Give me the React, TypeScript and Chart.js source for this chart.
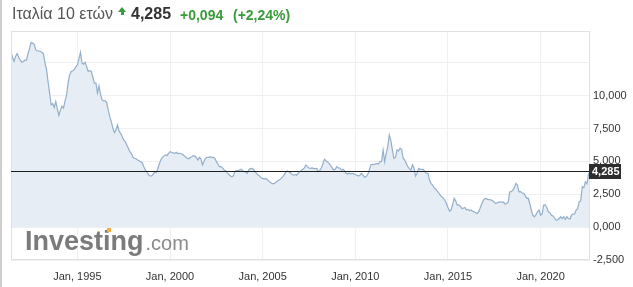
import React, { useEffect, useRef } from 'react';
import { Chart, registerables } from 'chart.js';

Chart.register(...registerables);

// ---- data -------------------------------------------------------------
const startYear = 1991;
const startMonth = 6; // first value: June 1991, one value per month
const yields: number[] = [
  // 1991 (Jun-Dec)
  13.4, 12.9, 12.6, 13.0, 13.2, 12.9, 12.7,
  // 1992
  12.55, 12.6, 12.7, 12.7, 13.2, 13.6, 14.05, 14.0, 13.9, 13.5, 13.4, 13.4,
  // 1993
  13.36, 13.3, 13.2, 12.5, 12.0, 11.07, 10.2, 9.3, 9.4, 9.1, 9.55, 9.0,
  // 1994
  8.5, 8.9, 9.2, 9.05, 9.6, 10.06, 11.0, 11.6, 11.84, 11.9, 12.0, 12.2,
  // 1995
  12.35, 12.8, 13.3, 12.47, 12.4, 12.55, 12.2, 11.84, 11.9, 11.84, 11.4, 10.95,
  // 1996
  10.95, 10.2, 10.75, 10.1, 9.68, 9.6, 9.6, 9.47, 8.9, 8.4, 8.0, 7.52,
  // 1997
  7.19, 7.4, 7.77, 7.3, 7.14, 6.9, 6.63, 6.5, 6.25, 6.0, 5.74, 5.6,
  // 1998
  5.31, 5.24, 5.2, 5.1, 5.05, 4.98, 4.9, 4.6, 4.35, 4.2, 4.0, 3.9,
  // 1999
  3.89, 4.0, 4.22, 4.14, 4.4, 4.8, 5.1, 5.3, 5.4, 5.49, 5.45, 5.6,
  // 2000
  5.74, 5.7, 5.65, 5.61, 5.7, 5.6, 5.61, 5.6, 5.55, 5.45, 5.35, 5.24,
  // 2001
  5.2, 5.3, 5.35, 5.44, 5.4, 5.3, 5.1, 5.3, 5.2, 4.73, 5.0, 5.24,
  // 2002
  5.3, 5.3, 5.36, 5.3, 5.3, 5.24, 5.0, 4.8, 4.6, 4.6, 4.5, 4.35,
  // 2003
  4.3, 4.14, 4.0, 3.9, 3.83, 3.9, 4.22, 4.3, 4.3, 4.35, 4.4, 4.3,
  // 2004
  4.22, 4.2, 4.1, 4.35, 4.45, 4.47, 4.4, 4.2, 4.1, 3.96, 3.9, 3.75,
  // 2005
  3.71, 3.65, 3.7, 3.6, 3.5, 3.4, 3.33, 3.3, 3.35, 3.45, 3.55, 3.6,
  // 2006
  3.71, 3.85, 4.0, 4.2, 4.27, 4.2, 4.15, 4.0, 3.96, 4.0, 3.95, 4.1,
  // 2007
  4.22, 4.3, 4.4, 4.5, 4.73, 4.6, 4.5, 4.47, 4.5, 4.47, 4.45, 4.47,
  // 2008
  4.22, 4.3, 4.5, 4.8, 5.16, 5.05, 4.95, 4.85, 4.7, 4.5, 4.35, 4.4,
  // 2009
  4.6, 4.5, 4.5, 4.35, 4.4, 4.3, 4.1, 4.04, 4.1, 4.05, 4.09, 4.05,
  // 2010
  4.0, 3.95, 3.89, 3.95, 4.09, 3.95, 3.79, 3.85, 4.0, 4.3, 4.73, 4.78,
  // 2011
  4.75, 4.8, 4.85, 4.8, 4.98, 5.0, 5.87, 4.98, 5.6, 6.12, 7.01, 6.6,
  // 2012
  5.87, 5.24, 5.3, 5.87, 5.8, 6.0, 5.9, 5.24, 5.1, 4.85, 4.6, 4.45,
  // 2013
  4.35, 4.73, 4.5, 3.89, 4.1, 4.47, 4.4, 4.4, 4.4, 4.22, 4.1, 4.1,
  // 2014
  3.6, 3.33, 3.2, 3.0, 2.9, 2.75, 2.6, 2.44, 2.3, 2.2, 2.06, 1.8,
  // 2015
  1.5, 1.22, 1.3, 1.7, 2.19, 2.0, 1.68, 1.7, 1.6, 1.42, 1.45, 1.5,
  // 2016
  1.3, 1.35, 1.25, 1.3, 1.2, 1.17, 1.1, 1.04, 1.2, 1.5, 1.8, 2.06,
  // 2017
  2.19, 2.15, 2.1, 2.1, 2.06, 2.0, 1.9, 1.8, 1.85, 1.9, 1.93, 1.9,
  // 2018
  1.9, 1.75, 1.8, 1.9, 2.69, 2.7, 2.82, 3.0, 3.33, 3.2, 2.69, 2.7,
  // 2019
  2.6, 2.57, 2.4, 2.19, 2.2, 1.8, 1.3, 0.9, 0.79, 0.95, 1.17, 1.3,
  // 2020
  0.91, 1.0, 1.68, 1.7, 1.5, 1.17, 1.1, 0.91, 0.85, 0.7, 0.53, 0.55,
  // 2021
  0.66, 0.79, 0.65, 0.8, 0.59, 0.8, 0.65, 0.6, 0.91, 1.0, 1.0, 1.3,
  // 2022 (Jan-Sep)
  1.4, 1.93, 2.0, 3.07, 3.0, 3.45, 3.3, 4.0, 4.285,
];

const xTickYears = [1995, 2000, 2005, 2010, 2015, 2020];
const yTickValues = [-2.5, 0, 2.5, 5, 7.5, 10, 12.5];
const yHiddenLabels = [12.5];
const yMin = -2.5;
const yMax = 14.92;

const lastValue = 4.285;
const titleText = 'Ιταλία 10 ετών';
const priceText = '4,285';
const changeText = '+0,094';
const pctText = '(+2,24%)';
const lastLabel = '4,285';

const FONT = '"Liberation Sans", Arial, Helvetica, sans-serif';
const GREEN = '#3a9b3a';

const fmt = (v: number) => v.toFixed(3).replace('.', ',');

const overlayPlugin = {
  id: 'overlay',
  afterDraw(chart: any) {
    const { ctx, chartArea, scales } = chart;
    const { left, right, top, bottom } = chartArea;
    ctx.save();
    // frame
    ctx.strokeStyle = '#e1e1e1';
    ctx.lineWidth = 1;
    ctx.strokeRect(left + 0.5, top + 0.5, right - left - 1, bottom - top - 1);
    // last value line
    const yy = Math.round(scales.y.getPixelForValue(lastValue)) + 0.5;
    ctx.strokeStyle = '#1e1e1e';
    ctx.beginPath();
    ctx.moveTo(left, yy);
    ctx.lineTo(right, yy);
    ctx.stroke();
    // label box
    ctx.fillStyle = '#2d2d2d';
    ctx.fillRect(right - 1, yy - 7.5, 32, 15);
    ctx.fillStyle = '#ffffff';
    ctx.font = `bold 11px ${FONT}`;
    ctx.textAlign = 'left';
    ctx.textBaseline = 'middle';
    ctx.fillText(lastLabel, right + 2, yy + 0.5);
    ctx.restore();
  },
};

export default function App() {
  const canvasRef = useRef<HTMLCanvasElement | null>(null);

  useEffect(() => {
    document.body.style.margin = '0';
    const canvas = canvasRef.current;
    if (!canvas) return;
    const points = yields.map((v, i) => ({
      x: startYear + (startMonth - 1 + i) / 12,
      y: v,
    }));
    const xMin = points[0].x;
    const xMax = points[points.length - 1].x;

    const chart = new Chart(canvas, {
      type: 'line',
      data: {
        datasets: [
          {
            data: points,
            borderColor: '#94afcb',
            borderWidth: 1.2,
            backgroundColor: '#e6edf4',
            fill: 'origin',
            pointRadius: 0,
            tension: 0,
          },
        ],
      },
      options: {
        animation: false,
        responsive: false,
        events: [],
        layout: { padding: { left: 11, top: 31, right: 0, bottom: 0 } },
        plugins: {
          legend: { display: false },
          tooltip: { enabled: false },
        },
        scales: {
          x: {
            type: 'linear',
            position: 'bottom',
            min: xMin,
            max: xMax,
            afterFit: (s: any) => {
              s.height = 27;
            },
            afterBuildTicks: (s: any) => {
              s.ticks = xTickYears.map((v) => ({ value: v }));
            },
            ticks: {
              autoSkip: false,
              maxRotation: 0,
              padding: 10,
              color: '#333333',
              font: { family: FONT, size: 11 },
              callback: (v: any) => 'Jan, ' + v,
            },
            grid: { color: '#eef1f4', drawTicks: false },
            border: { display: false },
          },
          y: {
            type: 'linear',
            position: 'right',
            min: yMin,
            max: yMax,
            afterFit: (s: any) => {
              s.width = 43;
            },
            afterBuildTicks: (s: any) => {
              s.ticks = yTickValues.map((v) => ({ value: v }));
            },
            ticks: {
              padding: 3,
              color: '#333333',
              font: { family: FONT, size: 11 },
              callback: (v: any) => (yHiddenLabels.includes(Number(v)) ? '' : fmt(Number(v))),
            },
            grid: { color: '#eef1f4', drawTicks: false },
            border: { display: false },
          },
        },
      },
      plugins: [overlayPlugin],
    } as any);

    return () => chart.destroy();
  }, []);

  const abs = (left: number, extra: any = {}) => ({
    position: 'absolute' as const,
    left,
    top: 4,
    lineHeight: '20px',
    whiteSpace: 'nowrap' as const,
    ...extra,
  });

  return (
    <div
      style={{
        position: 'relative',
        width: 633,
        height: 287,
        overflow: 'hidden',
        background: '#ffffff',
        fontFamily: FONT,
      }}
    >
      <canvas ref={canvasRef} width={633} height={287} style={{ position: 'absolute', left: 0, top: 0 }} />
      <div style={{ position: 'absolute', left: 0, top: 0, width: 2, height: 287, background: '#cfcfcf' }} />
      <span style={abs(12, { fontSize: 16, color: '#555555' })}>{titleText}</span>
      <div
        style={{
          position: 'absolute',
          left: 118,
          top: 7,
          width: 0,
          height: 0,
          borderLeft: '4px solid transparent',
          borderRight: '4px solid transparent',
          borderBottom: `5px solid ${GREEN}`,
        }}
      />
      <div style={{ position: 'absolute', left: 120.5, top: 12, width: 3, height: 2.5, background: GREEN }} />
      <span style={abs(131, { fontSize: 16, fontWeight: 'bold', color: '#333333' })}>{priceText}</span>
      <span style={abs(180, { fontSize: 14, fontWeight: 'bold', color: GREEN, top: 5 })}>{changeText}</span>
      <span style={abs(233, { fontSize: 14, fontWeight: 'bold', color: GREEN, top: 5 })}>{pctText}</span>
      <div
        style={{
          position: 'absolute',
          left: 25,
          top: 227.5,
          lineHeight: '27px',
          whiteSpace: 'nowrap',
        }}
      >
        <span style={{ fontSize: 27, fontWeight: 'bold', color: '#7b7b7b' }}>Investing</span>
        <span style={{ fontSize: 20, color: '#8a8a8a', marginLeft: 2 }}>.com</span>
      </div>
      <div style={{ position: 'absolute', left: 106.5, top: 228, width: 4, height: 4, background: '#f4b13e' }} />
    </div>
  );
}
